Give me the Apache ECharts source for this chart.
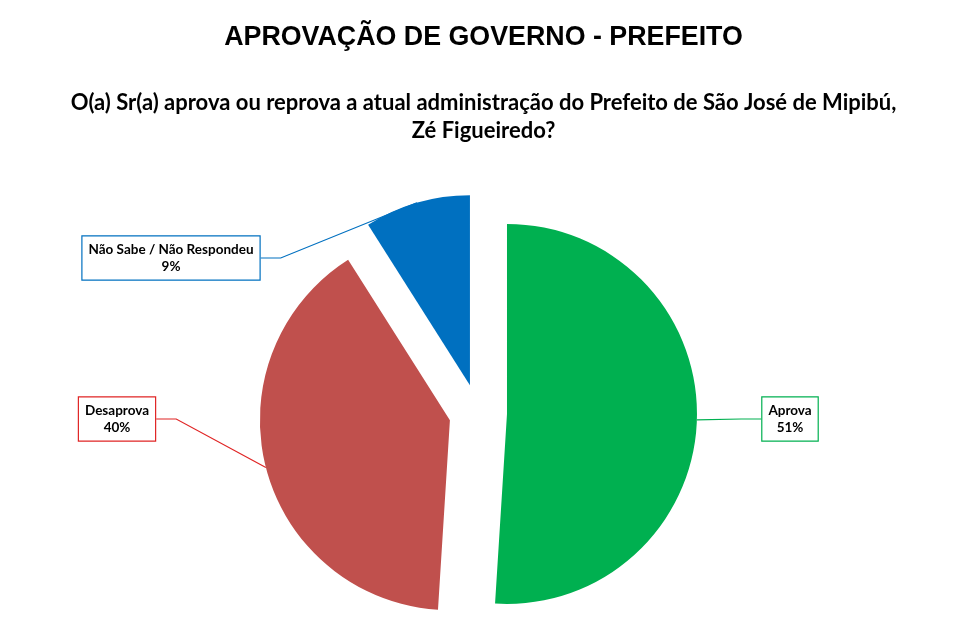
<!DOCTYPE html>
<html>
<head>
<meta charset="utf-8">
<script src="https://cdn.jsdelivr.net/npm/echarts@6/dist/echarts.min.js"></script>
<style>
  html, body { margin: 0; padding: 0; background: #fff; }
  #chart { width: 967px; height: 642px; }
</style>
</head>
<body>
<div id="chart"></div>
<script>
// dados da pesquisa
var categorias = ['Aprova', 'Desaprova', 'Não Sabe / Não Respondeu'];
var valores = [51, 40, 9];
var coresFatia = ['#00B050', '#C0504D', '#0070C0'];
var coresBorda = ['#00B050', '#E02424', '#0070C0'];

// posição das caixas de rótulo (centro, em px)
var posRotulo = [[790, 419], [117, 419], [171, 258]];

var centro = [478, 413];
var raio = 190;
var afastamento = 29; // fatias destacadas

var chart = echarts.init(document.getElementById('chart'));

var total = valores.reduce(function (a, b) { return a + b; }, 0);

/*uma série por fatia, cada uma deslocada na direção do seu ângulo médio*/
var series = [];
var acumulado = 0;
categorias.forEach(function (nome, k) {
    var meio = (acumulado + valores[k] / 2) / total * 2 * Math.PI;
    acumulado += valores[k];
    var cx = centro[0] + Math.sin(meio) * afastamento;
    var cy = centro[1] - Math.cos(meio) * afastamento;

    var dados = categorias.map(function (n, i) {
        var visivel = i === k;
        return {
            name: n,
            value: valores[i],
            itemStyle: { color: visivel ? coresFatia[i] : 'rgba(0,0,0,0)' },
            label: { show: visivel, borderColor: coresBorda[i] },
            labelLine: { show: visivel, lineStyle: { color: coresBorda[i] } }
        };
    });

    series.push({
        type: 'pie',
        center: [cx, cy],
        radius: [0, raio],
        startAngle: 90,
        clockwise: true,
        silent: true,
        emphasis: { disabled: true },
        label: {
            position: 'outside',
            formatter: '{b}\n{d}%',
            fontFamily: 'Lato',
            fontWeight: 'bold',
            fontSize: 13.5,
            lineHeight: 17,
            color: '#000',
            align: 'center',
            backgroundColor: '#fff',
            borderWidth: 1.2,
            padding: [5, 6, 4, 6]
        },
        labelLine: {
            length: 20,
            length2: 20,
            lineStyle: { width: 1.2 }
        },
        labelLayout: function (params) {
            var p = posRotulo[params.dataIndex];
            return {
                x: p[0],
                y: p[1],
                align: 'center',
                verticalAlign: 'middle'
            };
        },
        data: dados
    });
});

var option = {
    backgroundColor: '#fff',
    animation: false,
    title: [
        {
            text: 'APROVAÇÃO DE GOVERNO - PREFEITO',
            left: 'center',
            top: 19,
            textStyle: {
                fontFamily: 'Liberation Sans',
                fontWeight: 'bold',
                fontSize: 26.8,
                color: '#000'
            }
        },
        {
            text: 'O(a) Sr(a) aprova ou reprova a atual administração do Prefeito de São José de Mipibú,\nZé Figueiredo?',
            left: 'center',
            top: 84,
            textStyle: {
                fontFamily: 'Lato',
                fontWeight: 'bold',
                fontSize: 22,
                lineHeight: 28,
                color: '#000',
                align: 'center'
            }
        }
    ],
    series: series
};

chart.setOption(option);
</script>
</body>
</html>
